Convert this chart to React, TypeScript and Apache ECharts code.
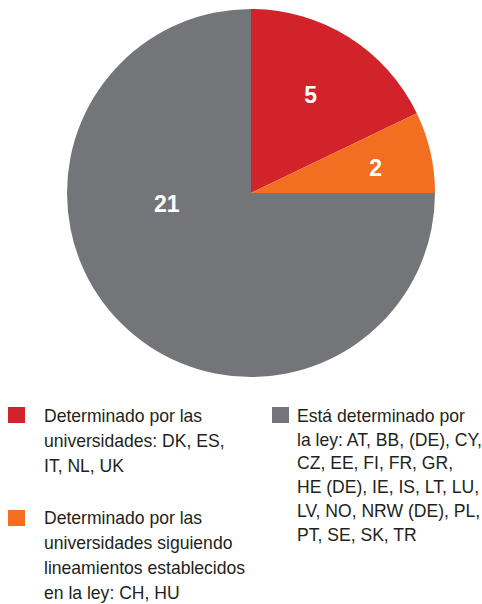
import React, { useEffect, useRef } from "react";
import * as echarts from "echarts";

const categories = [
  "Determinado por las universidades",
  "Determinado por las universidades siguiendo lineamientos establecidos en la ley",
  "Está determinado por la ley",
];
const values = [5, 2, 21];
const colors = ["#D2232A", "#F26F22", "#747579"];
const legendLines = [
  ["Determinado por las", "universidades: DK, ES,", "IT, NL, UK"],
  ["Determinado por las", "universidades siguiendo", "lineamientos establecidos", "en la ley: CH, HU"],
  ["Está determinado por", "la ley: AT, BB, (DE), CY,", "CZ, EE, FI, FR, GR,", "HE (DE), IE, IS, LT, LU,", "LV, NO, NRW (DE), PL,", "PT, SE, SK, TR"],
];

export default function App() {
  const ref = useRef<HTMLDivElement>(null);
  useEffect(() => {
    if (!ref.current) return;
    const chart = echarts.init(ref.current, null, { renderer: "svg" });
    const labelOffsets = [[9, -18], [32, -4], [-17, -56]];
    const legendPos = [
      { sx: 8, sy: 407, tx: 44, ty: 415.5, lh: 25 },
      { sx: 8, sy: 510, tx: 44, ty: 517.5, lh: 25 },
      { sx: 272, sy: 407, tx: 297, ty: 415.5, lh: 23.9 },
    ];
    const graphics: any[] = [];
    legendLines.forEach((lines, i) => {
      const p = legendPos[i];
      graphics.push({
        type: "rect",
        shape: { x: p.sx, y: p.sy, width: 17, height: 16 },
        style: { fill: colors[i] },
      });
      lines.forEach((ln, j) => {
        graphics.push({
          type: "text",
          x: p.tx,
          y: p.ty + j * p.lh,
          scaleX: 0.945,
          style: {
            text: ln,
            fill: "#231F20",
            fontSize: 18.6,
            fontFamily: "'Liberation Sans', Arial, sans-serif",
            verticalAlign: "middle",
            align: "left",
          },
        });
      });
    });
    chart.setOption({
      animation: false,
      backgroundColor: "#ffffff",
      series: [
        {
          type: "pie",
          center: [251, 193],
          radius: 184,
          startAngle: 90,
          clockwise: true,
          silent: true,
          itemStyle: { borderWidth: 0 },
          labelLine: { show: false },
          data: values.map((v, i) => ({
            value: v,
            name: categories[i],
            itemStyle: { color: colors[i] },
            label: {
              show: true,
              position: "inside",
              formatter: "{c}",
              color: "#ffffff",
              fontWeight: "bold",
              fontSize: 23,
              fontFamily: "'Liberation Sans', Arial, sans-serif",
              offset: labelOffsets[i],
            },
          })),
        },
      ],
      graphic: graphics,
    });
    return () => chart.dispose();
  }, []);
  return (
    <div
      ref={ref}
      style={{ position: "absolute", left: 0, top: 0, width: 482, height: 604 }}
    />
  );
}
